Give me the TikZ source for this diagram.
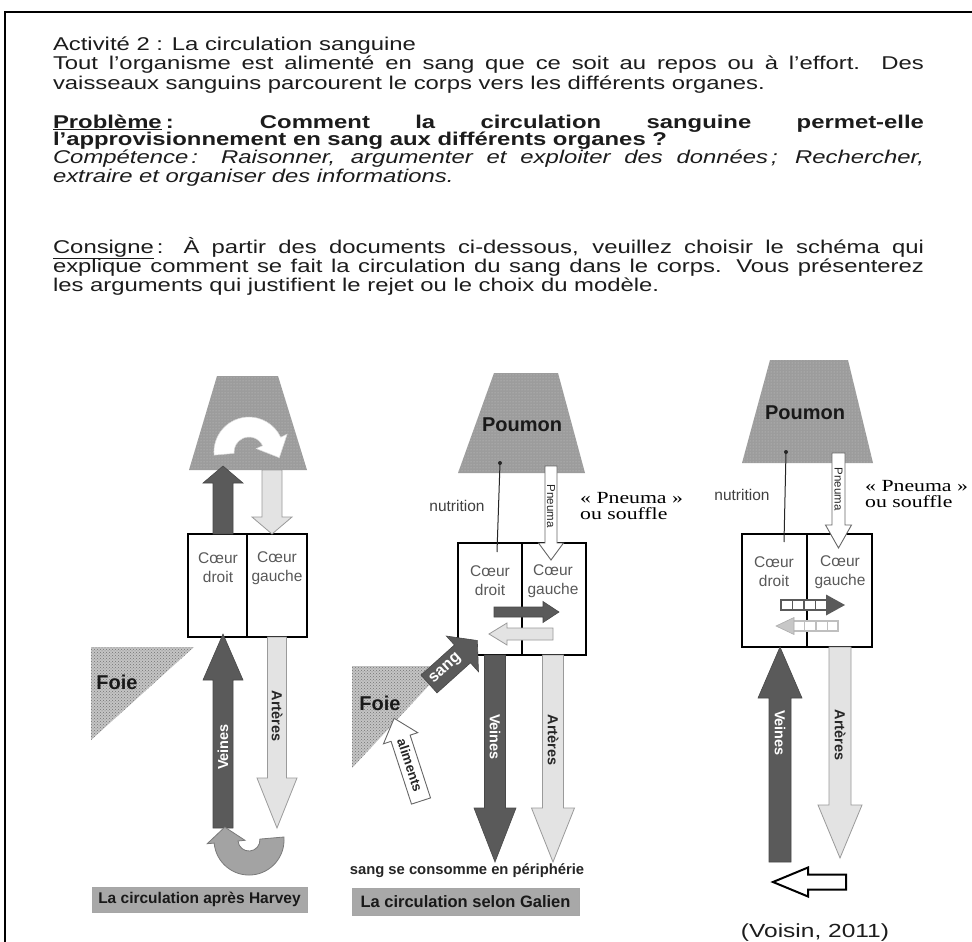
\documentclass[tikz,border=0pt]{standalone}
\usepackage{fontspec}
\setmainfont{Liberation Sans}[FakeStretch=1.29]
\newfontfamily\dfont{Liberation Sans}
\newfontfamily\serifst{Liberation Serif}[FakeStretch=1.28]
\usetikzlibrary{patterns,arrows.meta}
\definecolor{darkarrow}{HTML}{5A5A5A}
\definecolor{lightarrow}{HTML}{E3E3E3}
\definecolor{lightedge}{HTML}{9A9A9A}
\definecolor{midarrow}{HTML}{A3A3A3}
\definecolor{midedge}{HTML}{7A7A7A}
\definecolor{lunggray}{HTML}{9C9C9C}
\definecolor{foiegray}{HTML}{C4C4C4}
\definecolor{labelgray}{HTML}{A8A8A8}
\definecolor{hearttext}{HTML}{595959}
\definecolor{textdark}{HTML}{1C1C1C}
\newcommand{\blkV}[7]{\draw[#1] (#2-#6,#3) -- (#2-#6,#4) -- (#2-#7,#4) -- (#2,#5) -- (#2+#7,#4) -- (#2+#6,#4) -- (#2+#6,#3) -- cycle;}
\newcommand{\blkH}[7]{\draw[#1] (#3,#2-#6) -- (#4,#2-#6) -- (#4,#2-#7) -- (#5,#2) -- (#4,#2+#7) -- (#4,#2+#6) -- (#3,#2+#6) -- cycle;}
\newcommand{\blkR}[7]{\begin{scope}[shift={#2}, rotate=#3]\draw[#1] (0,-#6) -- (#4,-#6) -- (#4,-#7) -- (#4+#5,0) -- (#4,#7) -- (#4,#6) -- (0,#6) -- cycle;\end{scope}}
\tikzset{
  mainline/.style={anchor=base west, inner sep=0pt, outer sep=0pt, text=textdark, font=\fontsize{18.5}{19}\selectfont},
  darkblk/.style={fill=darkarrow, draw=darkarrow!80!black, line width=0.6pt},
  lightblk/.style={fill=lightarrow, draw=lightedge, line width=0.8pt},
  pneumablk/.style={fill=white, draw=black!60, line width=0.9pt},
  whiteblk/.style={fill=white, draw=black, line width=2pt},
  midblk/.style={fill=midarrow, draw=midedge, line width=0.8pt},
  heartbox/.style={draw=black, line width=1.8pt},
  lungshape/.style={fill=lunggray, postaction={pattern=dots, pattern color=lunggray!55!white}},
  foieshape/.style={fill=foiegray, postaction={pattern=crosshatch dots, pattern color=black!55}},
  heartlbl/.style={align=center, inner sep=0pt, text=hearttext, font=\dfont\fontsize{15.5}{19}\selectfont},
  poumonlbl/.style={inner sep=0pt, text=black!90, font=\dfont\bfseries\fontsize{20}{20}\selectfont},
  foielbl/.style={inner sep=0pt, text=black!90, font=\dfont\bfseries\fontsize{20}{20}\selectfont},
  nutrlbl/.style={inner sep=0pt, text=black!75, font=\dfont\fontsize{15.5}{16}\selectfont},
  vesslbl/.style={inner sep=0pt, font=\dfont\bfseries\fontsize{14.5}{15}\selectfont},
  pneulbl/.style={inner sep=0pt, text=black!85, font=\dfont\fontsize{11.5}{12}\selectfont},
  seriflbl/.style={anchor=base west, inner sep=0pt, text=black, font=\serifst\fontsize{17}{17}\selectfont},
  labelbox/.style={fill=labelgray, draw=black!35, line width=0.5pt, inner sep=0pt, text=black!90, font=\dfont\bfseries\fontsize{15.5}{16}\selectfont},
}
\begin{document}
\begin{tikzpicture}[x=1pt,y=-1pt]
\useasboundingbox (0,0) rectangle (972,942);
\fill[white] (0,0) rectangle (972,942);
\draw[line width=2.5pt, black] (972,12) -- (5,12) -- (5,942);

% ---------- text block ----------
\node[mainline] (l1) at (53,51) {Activité 2 : La circulation sanguine};
\node[mainline] (l2) at (53,70) {\makebox[871pt][s]{Tout l'organisme est alimenté en sang que ce soit au repos ou à l'effort. Des}};
\node[mainline] (l3) at (53,89) {vaisseaux sanguins parcourent le corps vers les différents organes.};
\node[mainline] (l4) at (53,128) {\bfseries\makebox[871pt][s]{\underline{Problème}\kern4pt: Comment la circulation sanguine permet-elle}};
\node[mainline] (l5) at (53,145) {\bfseries l'approvisionnement en sang aux différents organes ?};
\node[mainline] (l6) at (53,163) {\itshape\makebox[871pt][s]{Compétence\kern3pt: Raisonner, argumenter et exploiter des données\kern3pt; Rechercher,}};
\node[mainline] (l7) at (53,182) {\itshape extraire et organiser des informations.};
\node[mainline] (l8) at (53,253) {\makebox[871pt][s]{\underline{Consigne}\kern3pt: À partir des documents ci-dessous, veuillez choisir le schéma qui}};
\node[mainline] (l9) at (53,272) {\makebox[871pt][s]{explique comment se fait la circulation du sang dans le corps. Vous présenterez}};
\node[mainline] (l10) at (53,291) {les arguments qui justifient le rejet ou le choix du modèle.};

% ---------- diagram 1 : Harvey ----------
\path[lungshape] (217,376) -- (278,376) -- (307,470) -- (189,470) -- cycle;
\path[fill=white, draw=white!85!black, line width=0.5pt] (214.1,455.1) arc[start angle=175, end angle=335, radius=35] -- (287.1,434.2) -- (279.3,457.7) -- (256.2,448.6) -- (262.6,445.7) arc[start angle=335, end angle=175, radius=15] -- cycle;
\path[foieshape] (91,647) -- (194,647) -- (91,740) -- cycle;
\node[foielbl] (foie1) at (117,682) {Foie};
\draw[heartbox] (188,534) rectangle (307,637);
\draw[heartbox] (247,534) -- (247,637);
\node[heartlbl] (cd1) at (218,568) {Cœur\\droit};
\node[heartlbl] (cg1) at (277,568) {Cœur\\gauche};
\blkV{darkblk}{223}{534}{483}{466}{10}{20}
\blkV{lightblk}{272}{470}{517}{534}{10}{20}
\blkV{darkblk}{223}{828}{680}{634}{10}{20}
\blkV{lightblk}{277}{637}{778}{828}{9.5}{20}
\node[vesslbl, text=white, rotate=90] (v1) at (223,747) {Veines};
\node[vesslbl, text=black!85, rotate=-90] (a1) at (277,716) {Artères};
\path[midblk] (283.9,837) arc[start angle=-5, end angle=175, radius=35] -- (207.2,843.7) -- (224.8,827.1) -- (245,840.3) -- (238.0,841.0) arc[start angle=175, end angle=-5, radius=11] -- cycle;
\node[labelbox, minimum width=215pt, minimum height=25pt] (lab1) at (199.5,899.5) {La circulation après Harvey};

% ---------- diagram 2 : Galien ----------
\path[lungshape] (494,373) -- (558,373) -- (585,473) -- (458,473) -- cycle;
\node[poumonlbl] (p2) at (522,425) {Poumon};
\draw[heartbox] (458,543) rectangle (586,655);
\draw[heartbox] (522,543) -- (522,655);
\node[heartlbl] (cd2) at (490,581) {Cœur\\droit};
\node[heartlbl] (cg2) at (553,581) {Cœur\\gauche};
\coordinate (n2a) at (497,552);
\coordinate (n2b) at (500,463);
\draw[line width=1pt, black!85] (n2a) -- (n2b);
\fill[black!85] (n2b) circle (2);
\node[nutrlbl] (nu2) at (457,506) {nutrition};
\blkV{pneumablk}{551}{466}{543}{560}{6}{12.5}
\node[pneulbl, rotate=-90] (pn2) at (551,506) {Pneuma};
\node[seriflbl] (ps2a) at (580,503) {« Pneuma »};
\node[seriflbl] (ps2b) at (580,519) {ou souffle};
\blkH{darkblk}{612}{494}{543}{559}{5}{10.5}
\blkH{lightblk}{634}{553}{507}{489}{6}{11}
\blkV{darkblk}{495}{655}{808}{862}{10.5}{21}
\blkV{lightblk}{553}{655}{808}{862}{10.5}{21.5}
\node[vesslbl, text=white, rotate=-90] (v2) at (495,737) {Veines};
\node[vesslbl, text=black!85, rotate=-90] (a2) at (553,740) {Artères};
\path[foieshape] (352,666) -- (447,666) -- (352,768) -- cycle;
\node[foielbl] (foie2) at (380,703) {Foie};
\blkR{darkblk}{(429,684)}{42}{45}{20}{12}{24}
\node[vesslbl, text=white, rotate=42, font=\dfont\bfseries\fontsize{16}{16}\selectfont] (sang) at (445.7,668.9) {sang};
\blkR{pneumablk}{(421,801)}{108}{66}{21}{10}{18}
\node[vesslbl, text=black!85, rotate=-72, font=\dfont\bfseries\fontsize{13.5}{14}\selectfont] (alim) at (410,765) {aliments};
\node[inner sep=0pt, text=black!85, font=\dfont\bfseries\fontsize{14.8}{15}\selectfont] (conso) at (467,871) {sang se consomme en périphérie};
\node[labelbox, minimum width=227pt, minimum height=27pt, font=\dfont\bfseries\fontsize{16.5}{17}\selectfont] (lab2) at (465.5,901.5) {La circulation selon Galien};

% ---------- diagram 3 : Voisin ----------
\path[lungshape] (770,360) -- (848,360) -- (873,463) -- (742,463) -- cycle;
\node[poumonlbl] (p3) at (805,413) {Poumon};
\draw[heartbox] (742,534) rectangle (872,647);
\draw[heartbox] (807,534) -- (807,647);
\node[heartlbl] (cd3) at (774,572) {Cœur\\droit};
\node[heartlbl] (cg3) at (840,572) {Cœur\\gauche};
\coordinate (n3a) at (784,542);
\coordinate (n3b) at (786,452);
\draw[line width=1pt, black!85] (n3a) -- (n3b);
\fill[black!85] (n3b) circle (2);
\node[nutrlbl] (nu3) at (742,495) {nutrition};
\blkV{pneumablk}{838.5}{453}{525}{548}{6.5}{13}
\node[pneulbl, rotate=-90] (pn3) at (838.5,489) {Pneuma};
\node[seriflbl] (ps3a) at (865,491) {« Pneuma »};
\node[seriflbl] (ps3b) at (865,507) {ou souffle};
% ladder arrows
\draw[fill=white, draw=darkarrow, line width=1.8pt] (781,600) rectangle (827,610);
\foreach \xx in {792.5,804,815.5} \draw[darkarrow, line width=1.8pt] (\xx,600) -- (\xx,610);
\fill[darkarrow] (826,594.5) -- (845,605) -- (826,615.5) -- cycle;
\draw[fill=white, draw=black!25, line width=1.8pt] (793,621) rectangle (838,631);
\foreach \xx in {804.5,816,827.5} \draw[black!25, line width=1.8pt] (\xx,621) -- (\xx,631);
\draw[fill=black!22, draw=black!32, line width=0.6pt] (794,617.5) -- (776,626) -- (794,634.5) -- cycle;
\blkV{darkblk}{780}{862}{698}{647}{11}{22}
\blkV{lightblk}{840}{647}{805}{858}{11}{22}
\node[vesslbl, text=white, rotate=-90] (v3) at (780,733) {Veines};
\node[vesslbl, text=black!85, rotate=-90] (a3) at (840,735) {Artères};
\blkH{whiteblk}{882}{846}{808}{773}{7.5}{14.5}
\node[anchor=base, inner sep=0pt, text=textdark, font=\fontsize{19}{20}\selectfont] (voisin) at (815,937) {(Voisin, 2011)};
\end{tikzpicture}
\end{document}
